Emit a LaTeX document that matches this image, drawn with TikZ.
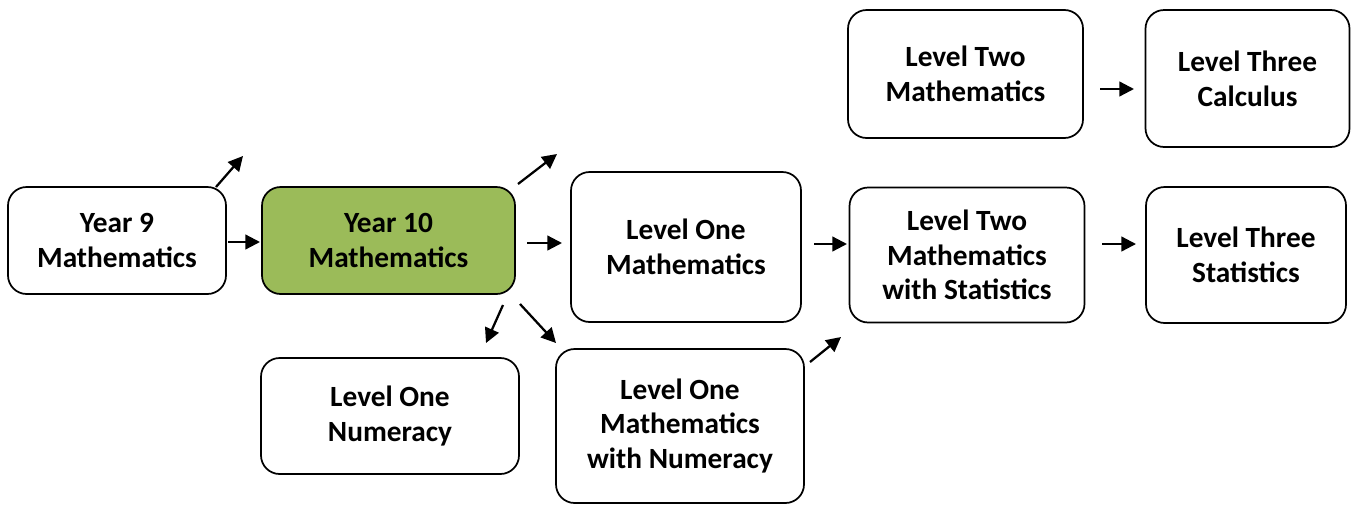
\documentclass[tikz,border=0pt]{standalone}
\usepackage{fontspec}
\setmainfont{Carlito}
\usetikzlibrary{arrows.meta}
\definecolor{boxgreen}{HTML}{9BBB59}
\tikzset{
  course/.style={draw=black, line width=1.3pt, rounded corners=14pt, fill=white,
    align=center, font=\bfseries\fontsize{22pt}{26pt}\selectfont, inner sep=0pt},
  flow/.style={line width=1.7pt, -{Triangle[length=11pt,width=11pt]}}
}
\begin{document}
\begin{tikzpicture}[x=0.75pt,y=-0.75pt]
\useasboundingbox (0,0) rectangle (1352,504);
% boxes (pixel coordinates, y downward)
\node[course, minimum width=218*0.75pt, minimum height=107*0.75pt] (y9) at (117,240.5) {Year 9\\Mathematics};
\node[course, fill=boxgreen, minimum width=253*0.75pt, minimum height=107*0.75pt] (y10) at (388.5,240.5) {Year 10\\Mathematics};
\node[course, minimum width=230*0.75pt, minimum height=150*0.75pt] (l1m) at (686,247) {Level One\\Mathematics};
\node[course, minimum width=258*0.75pt, minimum height=116*0.75pt] (l1n) at (390,416) {Level One\\Numeracy};
\node[course, minimum width=248*0.75pt, minimum height=154*0.75pt] (l1mn) at (680,426) {Level One\\Mathematics\\with Numeracy};
\node[course, minimum width=235*0.75pt, minimum height=128*0.75pt] (l2m) at (965.5,74) {Level Two\\Mathematics};
\node[course, minimum width=204*0.75pt, minimum height=137*0.75pt] (l3c) at (1247.5,78.5) {Level Three\\Calculus};
\node[course, minimum width=235*0.75pt, minimum height=135*0.75pt] (l2ms) at (967,255) {Level Two\\Mathematics\\with Statistics};
\node[course, minimum width=200*0.75pt, minimum height=136*0.75pt] (l3s) at (1246,255) {Level Three\\Statistics};
% arrow end points
\coordinate (a1s) at (228,242); \coordinate (a1e) at (260,242);
\coordinate (a2s) at (216,187); \coordinate (a2e) at (243,156);
\coordinate (a3s) at (518,184); \coordinate (a3e) at (557,154);
\coordinate (a4s) at (527,243); \coordinate (a4e) at (562,243);
\coordinate (a5s) at (503,305); \coordinate (a5e) at (486,343);
\coordinate (a6s) at (520,304); \coordinate (a6e) at (556,343);
\coordinate (a7s) at (814,244); \coordinate (a7e) at (847,244);
\coordinate (a8s) at (810,362); \coordinate (a8e) at (841,337);
\coordinate (a9s) at (1100,89); \coordinate (a9e) at (1134,89);
\coordinate (a10s) at (1102,244); \coordinate (a10e) at (1136,244);
\draw[flow] (a1s) -- (a1e);
\draw[flow] (a2s) -- (a2e);
\draw[flow] (a3s) -- (a3e);
\draw[flow] (a4s) -- (a4e);
\draw[flow] (a5s) -- (a5e);
\draw[flow] (a6s) -- (a6e);
\draw[flow] (a7s) -- (a7e);
\draw[flow] (a8s) -- (a8e);
\draw[flow] (a9s) -- (a9e);
\draw[flow] (a10s) -- (a10e);
\end{tikzpicture}
\end{document}
